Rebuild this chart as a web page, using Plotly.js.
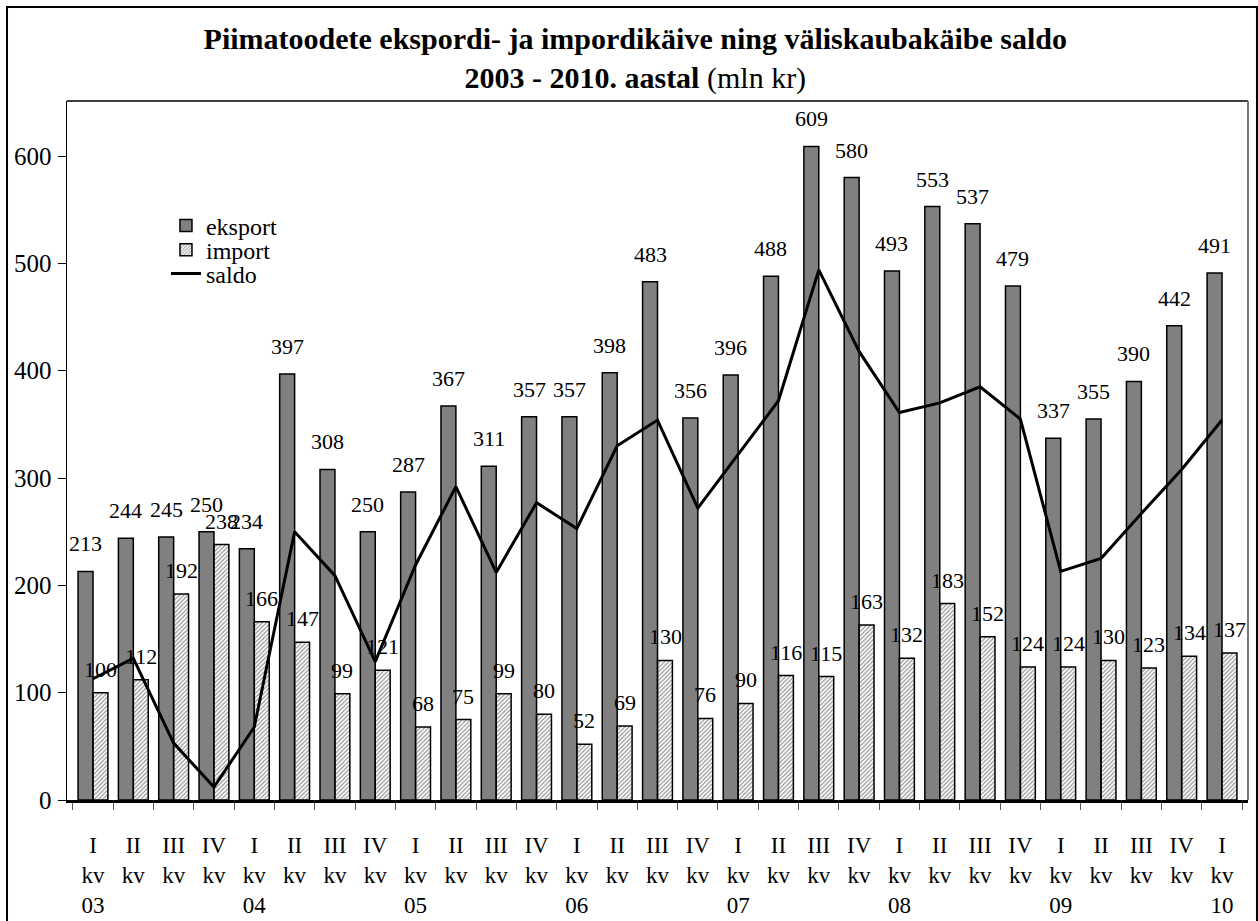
<!DOCTYPE html>
<html>
<head>
<meta charset="utf-8">
<script src="https://cdn.plot.ly/plotly-3.0.1.min.js"></script>
<style>
  body { margin: 0; background: #fff; }
  #graph { width: 1258px; height: 921px; }
</style>
</head>
<body>
<div id="graph"></div>
<script>
// kvartalid 2003 I ... 2010 I
const kvartal = ["I","II","III","IV","I","II","III","IV","I","II","III","IV","I","II","III","IV",
                 "I","II","III","IV","I","II","III","IV","I","II","III","IV","I"];
const aasta = ["03","","","","04","","","","05","","","","06","","","","07","","","","08","","","","09","","","","10"];

// väärtused (mln kr)
const eksport = [213,244,245,250,234,397,308,250,287,367,311,357,357,398,483,356,396,488,609,580,493,553,537,479,337,355,390,442,491];
const importv = [100,112,192,238,166,147,99,121,68,75,99,80,52,69,130,76,90,116,115,163,132,183,152,124,124,130,123,134,137];
const saldo   = [113,132,53,12,68,250,209,129,219,292,212,277,253,330,354,272,322,372,494,418,361,370,385,355,213,225,267,308,354];

const yTicks = [0,100,200,300,400,500,600];

// kategooriad ja sildid
let kat = [];
let sildid = [];
for (let i = 0; i < kvartal.length; i++) {
    kat.push("k" + i);
    let s = kvartal[i] + "<br>kv";
    if (aasta[i]) s += "<br>" + aasta[i];
    sildid.push(s);
}

const serif = "Liberation Serif";

const trace1 = {
    x: kat,
    y: eksport,
    name: "eksport",
    type: "bar",
    legend: "legend",
    marker: { color: "#808080", line: { color: "#000", width: 1.5 } }
};

const trace2 = {
    x: kat,
    y: importv,
    name: "import",
    type: "bar",
    legend: "legend2",
    marker: {
        color: "#dadada",
        line: { color: "#000", width: 1.5 },
        pattern: { shape: "/", fgcolor: "#959595", size: 3, solidity: 0.4 }
    }
};

const trace3 = {
    x: kat,
    y: saldo,
    name: "saldo",
    type: "scatter",
    mode: "lines",
    legend: "legend3",
    line: { color: "#000", width: 3 },
    cliponaxis: false
};

const data = [trace1, trace2, trace3];

// väärtuste sildid tulpade kohal
let sildidTulbal = [];
for (let i = 0; i < kat.length; i++) {
    sildidTulbal.push({
        x: kat[i], y: eksport[i], text: String(eksport[i]),
        xshift: -7.5, yshift: 13, yanchor: "bottom", showarrow: false,
        font: { family: serif, size: 22, color: "#000" }
    });
    sildidTulbal.push({
        x: kat[i], y: importv[i], text: String(importv[i]),
        xshift: 7.5, yshift: 9, yanchor: "bottom", showarrow: false,
        font: { family: serif, size: 22, color: "#000" }
    });
}

function leg(y) {
    return {
        x: 0.0838, y: y, xanchor: "left", yanchor: "middle",
        bgcolor: "rgba(0,0,0,0)",
        font: { family: serif, size: 24, color: "#000" },
        itemwidth: 30
    };
}

const layout = {
    width: 1258,
    height: 921,
    margin: { l: 67, r: 10, t: 101, b: 121 },
    paper_bgcolor: "#fff",
    plot_bgcolor: "#fff",
    font: { family: serif, color: "#000" },
    title: {
        text: "<b>Piimatoodete ekspordi- ja impordikäive ning väliskaubakäibe saldo</b><br><b>2003 - 2010. aastal</b> (mln kr)",
        font: { family: serif, size: 30, color: "#000" },
        x: 0.505, xref: "container", xanchor: "center",
        y: 0.947, yref: "container", yanchor: "top"
    },
    barmode: "group",
    bargap: 0.26,
    bargroupgap: 0,
    showlegend: true,
    legend: leg(0.8212),
    legend2: leg(0.7868),
    legend3: leg(0.7525),
    annotations: sildidTulbal,
    xaxis: {
        type: "category",
        tickvals: kat,
        ticktext: sildid,
        tickson: "boundaries",
        ticks: "outside",
        ticklen: 7,
        tickcolor: "#555",
        tickwidth: 1,
        ticklabelstandoff: 23,
        showline: true,
        linecolor: "#000",
        linewidth: 2.5,
        showgrid: false,
        zeroline: false,
        tickfont: { family: serif, size: 23, color: "#000" }
    },
    yaxis: {
        range: [0, 651.3],
        tickvals: yTicks,
        ticks: "outside",
        ticklen: 8,
        tickcolor: "#000",
        tickwidth: 1,
        ticklabelstandoff: 1,
        showline: true,
        linecolor: "#000",
        linewidth: 1.5,
        showgrid: false,
        zeroline: false,
        tickfont: { family: serif, size: 25, color: "#000" }
    },
    shapes: [
        // joonise välimine raam
        { type: "rect", xref: "paper", yref: "paper", x0: -0.0508, x1: 1.0076, y0: -0.176, y1: 1.1345,
          line: { color: "#000", width: 2 } },
        // graafiku ala ülemine ja parem serv
        { type: "line", xref: "paper", yref: "paper", x0: 0, x1: 1, y0: 1, y1: 1,
          line: { color: "#000", width: 1.5 } },
        { type: "line", xref: "paper", yref: "paper", x0: 1, x1: 1, y0: 0, y1: 1,
          line: { color: "#777", width: 2 } }
    ]
};

Plotly.newPlot("graph", data, layout, { displayModeBar: false, staticPlot: true });
</script>
</body>
</html>
